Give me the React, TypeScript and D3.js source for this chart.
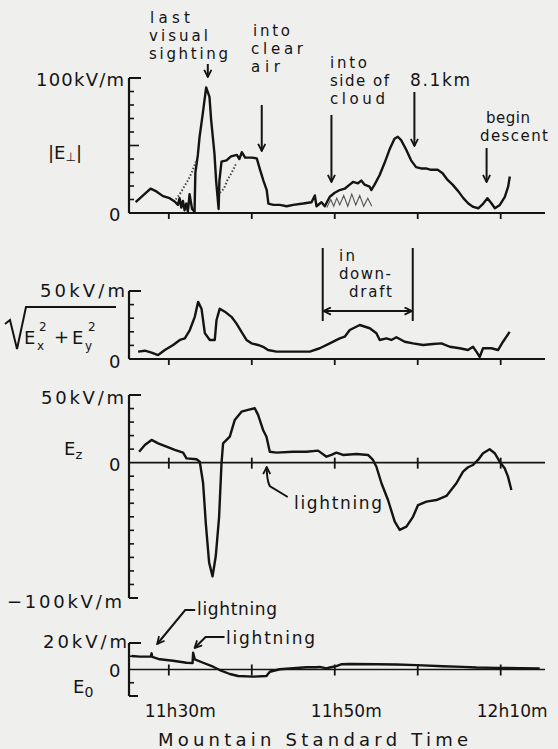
import React from "react";
import * as d3 from "d3";

// time in minutes after 11h00 MST, field in kV/m

// |E_perp|
const ePerp: [number, number][] = [
  [26.0, 8], [26.9, 13], [27.8, 18], [28.5, 16], [29.3, 12.5], [30.1, 11], [30.7, 8.5],
  [31.1, 6], [31.3, 11], [31.5, 4], [31.7, 9], [31.9, 2], [32.1, 7], [32.3, 1], [32.5, 14],
  [32.8, 3], [33.1, 1], [33.2, 30], [33.5, 43], [33.7, 56], [34.1, 74], [34.5, 93], [34.9, 86],
  [35.1, 69], [35.5, 44], [35.7, 24], [36.0, 3], [36.1, 24], [36.35, 38], [36.95, 39],
  [37.5, 42], [38.2, 43], [38.5, 40], [38.8, 45], [39.2, 41], [40.0, 41], [40.6, 40.5],
  [41.0, 32], [41.4, 24], [41.8, 17], [42.0, 7], [42.6, 6], [43.4, 6], [44.2, 5], [45.0, 6],
  [46.2, 7], [47.2, 8], [47.6, 13], [47.8, 5], [48.4, 8], [48.8, 5], [49.4, 12], [50.0, 15],
  [50.6, 17], [51.2, 18], [51.8, 21], [52.2, 23], [52.8, 22], [53.2, 24], [53.6, 21],
  [54.2, 19.5], [54.4, 17], [54.8, 21], [55.4, 28], [56.0, 37], [56.6, 47], [57.2, 55],
  [57.6, 56.5], [58.0, 54], [58.6, 47], [59.2, 39], [59.8, 34], [60.4, 33], [61.0, 33],
  [61.6, 32], [62.4, 32], [63.0, 29.5], [63.6, 24.5], [64.2, 21], [64.9, 16], [65.5, 11],
  [66.1, 7], [66.7, 4.5], [67.3, 3.5], [67.9, 7], [68.4, 11], [68.9, 7], [69.3, 3.5],
  [69.9, 6], [70.5, 12], [70.9, 19.5], [71.1, 27],
];
// stippled (noisy) parts of the |E_perp| record
const ePerpNoiseA: [number, number][] = [
  [30.84, 10], [31.33, 14], [31.81, 19], [32.29, 24], [32.77, 30], [33.25, 38],
];
const ePerpNoiseB: [number, number][] = [
  [36.14, 15], [36.63, 18], [37.11, 25], [37.59, 30], [38.07, 36],
];
const ePerpNoiseC: [number, number][] = [
  [49.04, 4], [49.52, 10], [49.88, 5], [50.24, 11], [50.6, 6], [51.08, 13], [51.57, 5],
  [52.05, 14], [52.53, 6], [53.01, 13], [53.49, 5], [53.98, 11], [54.46, 5],
];

// sqrt(Ex^2 + Ey^2)
const eHoriz: [number, number][] = [
  [26.3, 5.4], [27.11, 6.1], [27.92, 4.7], [28.71, 2.9], [29.52, 6.6], [30.52, 10.3],
  [31.33, 14], [31.93, 15.2], [32.53, 21.3], [33.13, 31], [33.53, 42], [33.94, 37],
  [34.34, 19], [34.94, 14], [35.54, 14], [35.75, 28.7], [36.14, 37], [36.75, 34.8],
  [37.55, 31], [38.16, 26], [38.76, 20], [39.36, 14], [39.96, 11.5], [40.76, 10.3],
  [41.36, 9], [41.96, 6.6], [42.98, 5.4], [44.98, 5.4], [46.99, 5.4], [48.19, 7.9],
  [49.4, 11.5], [50.6, 15.2], [51.2, 16.4], [51.81, 21.3], [53.01, 25], [54.22, 22.6],
  [55.02, 18.9], [55.42, 14], [56.23, 15.2], [56.83, 14], [57.43, 16], [58.43, 12.7],
  [59.43, 11.5], [60.64, 10.3], [61.84, 11], [62.86, 11.5], [63.86, 9], [65.06, 7.9],
  [66.06, 6.6], [66.66, 9], [67.07, 5.4], [67.47, 1.5], [67.87, 7.9], [68.88, 7.9],
  [69.68, 6.6], [70.28, 12.7], [71.08, 20],
];

// Ez
const eVert: [number, number][] = [
  [26.42, 8.1], [27.11, 13], [27.92, 16.8], [28.71, 14.3], [29.72, 11.8], [30.72, 9.4],
  [31.72, 7.4], [32.13, 3.2], [33.34, 2.5], [33.73, 0.7], [34.13, -15], [34.46, -45],
  [34.86, -74], [35.27, -84], [35.66, -69], [36.06, -40], [36.35, -0.5], [36.54, 14.3],
  [37.35, 19.2], [37.95, 31.6], [38.76, 37.7], [39.55, 39], [40.36, 40.2], [40.76, 35.3],
  [41.36, 24.2], [41.77, 19.2], [42.17, 8.1], [42.98, 7.4], [44.98, 8.1], [46.59, 8.1],
  [47.99, 8.9], [49.0, 4.4], [49.6, 5.7], [50.2, 7.4], [51.0, 5.7], [52.61, 6.4],
  [54.01, 5.7], [54.61, 2], [55.02, -3], [55.63, -15.2], [56.42, -27.6], [57.23, -43.6],
  [57.83, -49.7], [58.64, -47.3], [59.43, -40], [60.04, -31.3], [61.05, -28.8],
  [62.25, -27.6], [63.46, -24.6], [64.66, -15.2], [65.46, -6.6], [66.06, -3.4],
  [66.66, -1.7], [67.27, 2], [67.87, 7], [68.67, 9.9], [69.28, 7], [69.88, 0.7],
  [70.48, -4.1], [70.88, -10.3], [71.29, -20.2],
];

// E0
const eZero: [number, number][] = [
  [25.51, 10.2], [26.51, 9.7], [27.83, 9.7], [27.92, 12.2], [28.0, 9.5], [28.92, 7.7],
  [30.52, 6.6], [32.13, 5.1], [32.86, 4.8], [32.93, 12.7], [33.13, 7.7], [34.13, 5.1],
  [35.34, 2.1], [36.14, -0.4], [37.35, -3.4], [38.35, -4.9], [40.16, -5.4], [41.77, -4.9],
  [42.17, -1.7], [43.37, 0.2], [44.98, 0.9], [46.59, 1.7], [47.8, 1.7], [48.19, 2],
  [49.0, 0.8], [49.4, 1.5], [50.2, 2.5], [50.84, 4], [51.81, 4.2], [55.02, 4],
  [57.43, 3.8], [59.84, 3.3], [63.05, 2.5], [65.46, 2], [67.07, 1.5], [69.48, 1.2],
  [72.29, 1], [74.7, 0.8],
];

const minorTickMinutes = [30, 40, 50, 60, 70];
const labelMinutes = [30, 50, 70];
const labelText = ["11h30m", "11h50m", "12h10m"];

// event times (minutes after 11h00)
const sightingTime = 34.7;
const clearAirTime = 41.2;
const cloudSideTime = 49.6;
const altitudeTime = 59.6;
const descentTime = 68.3;
const downdraftStart = 48.55;
const downdraftEnd = 59.4;
const lightningEzTime = 41.8;
const lightningE0Times = [28.6, 33.1];

const INK = "#141414";
const FONT = "'DejaVu Sans', sans-serif";

const x = d3.scaleLinear().domain([25.2, 75.1]).range([129, 543]);
const X0 = x(25.2);

type Panel = {
  key: string;
  y: d3.ScaleLinear<number, number>;
  lo: number;
  hi: number;
  data: [number, number][];
  bottomBracket: boolean;
  crossTicks: boolean;
  longTick?: number;
};

const panels: Panel[] = [
  { key: "perp", y: d3.scaleLinear().domain([0, 100]).range([213, 78]), lo: 0, hi: 100, data: ePerp, bottomBracket: false, crossTicks: false, longTick: 50 },
  { key: "horiz", y: d3.scaleLinear().domain([0, 50]).range([359, 291]), lo: 0, hi: 50, data: eHoriz, bottomBracket: false, crossTicks: false },
  { key: "vert", y: d3.scaleLinear().domain([-100, 50]).range([598, 395]), lo: -100, hi: 50, data: eVert, bottomBracket: true, crossTicks: true },
  { key: "zero", y: d3.scaleLinear().domain([-20, 20]).range([696, 643]), lo: -20, hi: 20, data: eZero, bottomBracket: true, crossTicks: true },
];

function Label({ t, x: lx, y: ly, w, size = 17 }: { t: string; x: number; y: number; w?: number; size?: number }) {
  return (
    <text x={lx} y={ly} fontSize={size} dominantBaseline="central" textLength={w} lengthAdjust={w ? "spacing" : undefined}>
      {t}
    </text>
  );
}

function PanelAxes({ p }: { p: Panel }) {
  const line = d3.line<[number, number]>().x(d => x(d[0])).y(d => p.y(d[1]));
  const ticks = d3.range(p.lo + 10, p.hi, 10).filter(v => v !== 0);
  const y0 = p.y(0);
  return (
    <g>
      <line x1={X0} x2={X0} y1={p.y(p.hi)} y2={p.y(p.lo)} stroke={INK} strokeWidth={2.2} />
      <line x1={X0} x2={X0 + 12} y1={p.y(p.hi)} y2={p.y(p.hi)} stroke={INK} strokeWidth={2} />
      {p.bottomBracket && (
        <line x1={X0} x2={X0 + 9} y1={p.y(p.lo)} y2={p.y(p.lo)} stroke={INK} strokeWidth={2} />
      )}
      {ticks.map(v => (
        <line key={v} x1={X0} x2={X0 + (v === p.longTick ? 10 : 5)} y1={p.y(v)} y2={p.y(v)} stroke={INK} strokeWidth={1.6} />
      ))}
      <line x1={X0} x2={545} y1={y0} y2={y0} stroke={INK} strokeWidth={p.crossTicks ? 1.6 : 2} />
      {minorTickMinutes.map(m => (
        <line key={m} x1={x(m)} x2={x(m)} y1={p.crossTicks ? y0 - 5 : y0} y2={y0 + 6} stroke={INK} strokeWidth={1.8} />
      ))}
      <path d={line(p.data) || ""} fill="none" stroke={INK} strokeWidth={2.4} strokeLinejoin="round" />
    </g>
  );
}

export default function App() {
  const p1 = panels[0];
  const noise = d3.line<[number, number]>().x(d => x(d[0])).y(d => p1.y(d[1]));
  const downArrow = (t: number, y1: number, y2: number) => (
    <line x1={x(t)} x2={x(t)} y1={y1} y2={y2} stroke={INK} strokeWidth={2} markerEnd="url(#ah)" />
  );
  const ddY = 311;
  const S = 15; // stacked annotation size
  const A = 18; // axis unit labels
  return (
    <svg width={558} height={749} style={{ position: "absolute", left: 0, top: 0, background: "#efefed" }} fontFamily={FONT} fill={INK}>
      <defs>
        <marker id="ah" viewBox="0 0 10 10" refX={9} refY={5} markerWidth={9} markerHeight={9} markerUnits="userSpaceOnUse" orient="auto-start-reverse">
          <path d="M1,1 L9,5 L1,9" fill="none" stroke={INK} strokeWidth={2} />
        </marker>
      </defs>
      <rect width={558} height={749} fill="#efefed" />

      {panels.map(p => <PanelAxes key={p.key} p={p} />)}

      {/* stippled noise in |E_perp| */}
      <path d={noise(ePerpNoiseA) || ""} fill="none" stroke="#444" strokeWidth={2} strokeDasharray="1.5 2" />
      <path d={noise(ePerpNoiseB) || ""} fill="none" stroke="#444" strokeWidth={2} strokeDasharray="1.5 2" />
      <path d={noise(ePerpNoiseC) || ""} fill="none" stroke="#555" strokeWidth={1.1} />

      {/* panel 1 annotations */}
      <Label t="last" x={150} y={18} w={40} size={S} />
      <Label t="visual" x={149} y={36} w={59} size={S} />
      <Label t="sighting" x={149} y={54} w={79} size={S} />
      {downArrow(sightingTime, 64, 77)}
      <Label t="into" x={253} y={31} w={37} size={S} />
      <Label t="clear" x={251} y={49} w={52} size={S} />
      <Label t="air" x={251} y={67} w={29} size={S} />
      {downArrow(clearAirTime, 105, 151)}
      <Label t="into" x={330} y={63} w={37} size={S} />
      <Label t="side of" x={330} y={81} w={59} size={S} />
      <Label t="cloud" x={330} y={99} w={55} size={S} />
      {downArrow(cloudSideTime, 115, 182)}
      <Label t="8.1km" x={410} y={80} w={60} />
      {downArrow(altitudeTime, 92, 146)}
      <Label t="begin" x={486} y={118} w={44} size={S} />
      <Label t="descent" x={480} y={136} w={68} size={S} />
      {downArrow(descentTime, 148, 182)}

      <Label t="100kV/m" x={36} y={79} w={88} size={A} />
      <Label t="0" x={109} y={214} size={A} />
      <text x={48} y={152} fontSize={18} dominantBaseline="central">
        |E<tspan fontSize={12} dy={5}>⊥</tspan><tspan dy={-5}>|</tspan>
      </text>

      {/* panel 2 */}
      <line x1={x(downdraftStart)} x2={x(downdraftStart)} y1={248} y2={321} stroke={INK} strokeWidth={2} />
      <line x1={x(downdraftEnd)} x2={x(downdraftEnd)} y1={248} y2={321} stroke={INK} strokeWidth={2} />
      <line x1={x(downdraftStart) + 1} x2={x(downdraftEnd) - 1} y1={ddY} y2={ddY} stroke={INK} strokeWidth={2} markerStart="url(#ah)" markerEnd="url(#ah)" />
      <Label t="in" x={339} y={256} w={16} size={S} />
      <Label t="down-" x={339} y={274} w={52} size={S} />
      <Label t="draft" x={349} y={292} w={43} size={S} />
      <Label t="50kV/m" x={40} y={290} w={85} size={A} />
      <Label t="0" x={109} y={361} size={A} />
      <path d="M5,324 L10,320 L17,349 L26,307 L116,307" fill="none" stroke={INK} strokeWidth={2} />
      <text fontSize={18} dominantBaseline="auto">
        <tspan x={24} y={344}>E</tspan>
        <tspan x={37} y={350} fontSize={12}>x</tspan>
        <tspan x={39} y={331} fontSize={12}>2</tspan>
        <tspan x={54} y={343}>+</tspan>
        <tspan x={72} y={344}>E</tspan>
        <tspan x={85} y={350} fontSize={12}>y</tspan>
        <tspan x={88} y={331} fontSize={12}>2</tspan>
      </text>

      {/* panel 3 */}
      <Label t="50kV/m" x={41} y={397} w={83} size={A} />
      <Label t="0" x={109} y={464} size={A} />
      <Label t="−100kV/m" x={7} y={601} w={115} size={A} />
      <text x={64} y={448} fontSize={18} dominantBaseline="central">
        E<tspan fontSize={13} dy={6}>z</tspan>
      </text>
      <Label t="lightning" x={294} y={503} w={88} />
      <path d={`M${x(lightningEzTime) + 21},497 L${x(lightningEzTime) + 3},486 Q${x(lightningEzTime)},480 ${x(lightningEzTime)},467`} fill="none" stroke={INK} strokeWidth={2} markerEnd="url(#ah)" />

      {/* panel 4 */}
      <Label t="lightning" x={197} y={609} w={80} />
      <Label t="lightning" x={226} y={638} w={89} />
      <path d={`M${x(lightningE0Times[0]) + 38},610 L${x(lightningE0Times[0]) + 28},610 L${x(lightningE0Times[0])},644`} fill="none" stroke={INK} strokeWidth={2} markerEnd="url(#ah)" />
      <path d={`M${x(lightningE0Times[1]) + 30},637 L${x(lightningE0Times[1]) + 11},637 L${x(lightningE0Times[1])},648`} fill="none" stroke={INK} strokeWidth={2} markerEnd="url(#ah)" />
      <Label t="20kV/m" x={43} y={641} w={84} size={A} />
      <Label t="0" x={109} y={670} size={A} />
      <text x={73} y={686} fontSize={18} dominantBaseline="central">
        E<tspan fontSize={14} dy={6}>0</tspan>
      </text>

      {labelMinutes.map((m, i) => (
        <Label key={m} t={labelText[i]} x={x(m) - 24} y={711} w={71} />
      ))}
      <Label t="Mountain Standard  Time" x={158} y={739} w={310} size={18} />
    </svg>
  );
}
